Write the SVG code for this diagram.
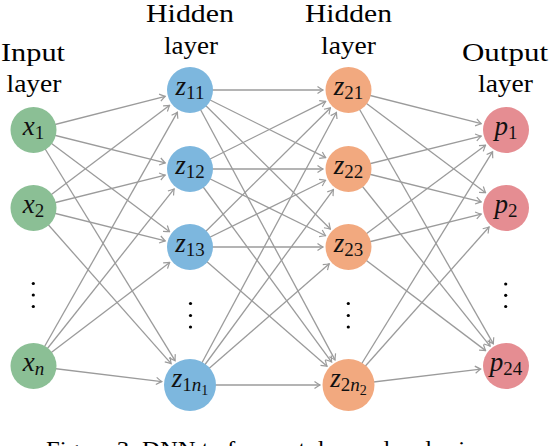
<svg xmlns="http://www.w3.org/2000/svg" width="550" height="446" viewBox="0 0 550 446" font-family="Liberation Serif, serif">
<defs>
<marker id="ah" markerUnits="userSpaceOnUse" viewBox="-7 -5 8 10" markerWidth="8" markerHeight="10" refX="0" refY="0" orient="auto">
<path d="M-5.5,-3.6 Q-1.5,-0.8 0,0 Q-1.5,0.8 -5.5,3.6" stroke="#9b9b9b" stroke-width="1.2" fill="none"/>
</marker>
</defs>
<rect width="550" height="446" fill="#fff"/>
<g id="headers" font-family="Liberation Serif, serif" font-size="26" fill="#000" text-anchor="middle">
<text x="33" y="61" textLength="64" lengthAdjust="spacingAndGlyphs">Input</text>
<text x="34" y="92" textLength="55" lengthAdjust="spacingAndGlyphs">layer</text>
<text x="190" y="22" textLength="88" lengthAdjust="spacingAndGlyphs">Hidden</text>
<text x="191" y="54" textLength="54" lengthAdjust="spacingAndGlyphs">layer</text>
<text x="348.5" y="22" textLength="87" lengthAdjust="spacingAndGlyphs">Hidden</text>
<text x="348.5" y="54" textLength="55" lengthAdjust="spacingAndGlyphs">layer</text>
<text x="505" y="61" textLength="86" lengthAdjust="spacingAndGlyphs">Output</text>
<text x="505.5" y="92" textLength="55" lengthAdjust="spacingAndGlyphs">layer</text>
</g>
<g id="connectors" stroke="#9b9b9b" stroke-width="1.3" fill="none" marker-end="url(#ah)">
<line x1="33.5" y1="130" x2="165.29" y2="96.31"/>
<line x1="33.5" y1="130" x2="165.26" y2="162.83"/>
<line x1="33.5" y1="130" x2="169.58" y2="231.73"/>
<line x1="33.5" y1="130" x2="175.09" y2="360.71"/>
<line x1="33.5" y1="208" x2="169.64" y2="105.35"/>
<line x1="33.5" y1="208" x2="165.26" y2="175.17"/>
<line x1="33.5" y1="208" x2="165.26" y2="240.83"/>
<line x1="33.5" y1="208" x2="171.12" y2="363.65"/>
<line x1="33.5" y1="366" x2="177.42" y2="112.18"/>
<line x1="33.5" y1="366" x2="174.14" y2="188.97"/>
<line x1="33.5" y1="366" x2="169.70" y2="262.44"/>
<line x1="33.5" y1="366" x2="161.71" y2="381.57"/>
<line x1="190" y1="90" x2="323" y2="90"/>
<line x1="190" y1="90" x2="325.68" y2="157.62"/>
<line x1="190" y1="90" x2="330.38" y2="229.06"/>
<line x1="190" y1="90" x2="335.01" y2="359.89"/>
<line x1="190" y1="169" x2="325.68" y2="101.38"/>
<line x1="190" y1="169" x2="323" y2="169"/>
<line x1="190" y1="169" x2="325.62" y2="235.74"/>
<line x1="190" y1="169" x2="331.64" y2="362.02"/>
<line x1="190" y1="247" x2="330.38" y2="107.94"/>
<line x1="190" y1="247" x2="325.62" y2="180.26"/>
<line x1="190" y1="247" x2="323" y2="247"/>
<line x1="190" y1="247" x2="327.01" y2="366.29"/>
<line x1="190" y1="385" x2="336.43" y2="112.46"/>
<line x1="190" y1="385" x2="333.41" y2="189.56"/>
<line x1="190" y1="385" x2="329.27" y2="263.74"/>
<line x1="190" y1="385" x2="320" y2="385"/>
<line x1="348.5" y1="90" x2="481.28" y2="123.72"/>
<line x1="348.5" y1="90" x2="485.59" y2="192.71"/>
<line x1="348.5" y1="90" x2="493.36" y2="343.85"/>
<line x1="348.5" y1="169" x2="481.25" y2="136.13"/>
<line x1="348.5" y1="169" x2="481.25" y2="201.87"/>
<line x1="348.5" y1="169" x2="490.08" y2="346.08"/>
<line x1="348.5" y1="247" x2="485.53" y2="145.21"/>
<line x1="348.5" y1="247" x2="481.25" y2="214.13"/>
<line x1="348.5" y1="247" x2="485.65" y2="350.63"/>
<line x1="348.5" y1="385" x2="492.60" y2="151.70"/>
<line x1="348.5" y1="385" x2="489.05" y2="227.05"/>
<line x1="348.5" y1="385" x2="480.68" y2="369.05"/>
</g>
<g id="nodes" font-family="Liberation Serif, serif" font-size="27" fill="#111" text-anchor="middle">
<g id="x1"><circle fill="#8bbf95" cx="33.5" cy="130" r="23"/><text x="33.5" y="135"><tspan font-style="italic">x</tspan><tspan font-size="19" dy="4">1</tspan></text></g>
<g id="x2"><circle fill="#8bbf95" cx="33.5" cy="208" r="23"/><text x="33.5" y="213"><tspan font-style="italic">x</tspan><tspan font-size="19" dy="4">2</tspan></text></g>
<g id="xn"><circle fill="#8bbf95" cx="33.5" cy="366" r="23"/><text x="33.5" y="371"><tspan font-style="italic">x</tspan><tspan font-size="19" font-style="italic" dy="4">n</tspan></text></g>
<g id="z11"><circle fill="#7db7de" cx="190" cy="90" r="23"/><text x="190" y="95"><tspan font-style="italic">z</tspan><tspan font-size="19" dy="4">11</tspan></text></g>
<g id="z12"><circle fill="#7db7de" cx="190" cy="169" r="23"/><text x="190" y="174"><tspan font-style="italic">z</tspan><tspan font-size="19" dy="4">12</tspan></text></g>
<g id="z13"><circle fill="#7db7de" cx="190" cy="247" r="23"/><text x="190" y="252"><tspan font-style="italic">z</tspan><tspan font-size="19" dy="4">13</tspan></text></g>
<g id="z1n1"><circle fill="#7db7de" cx="190" cy="385" r="26"/><text x="190" y="387"><tspan font-style="italic">z</tspan><tspan font-size="19" dy="4">1</tspan><tspan font-size="19" font-style="italic">n</tspan><tspan font-size="14" dy="4">1</tspan></text></g>
<g id="z21"><circle fill="#f2a97f" cx="348.5" cy="90" r="23"/><text x="348.5" y="95"><tspan font-style="italic">z</tspan><tspan font-size="19" dy="4">21</tspan></text></g>
<g id="z22"><circle fill="#f2a97f" cx="348.5" cy="169" r="23"/><text x="348.5" y="174"><tspan font-style="italic">z</tspan><tspan font-size="19" dy="4">22</tspan></text></g>
<g id="z23"><circle fill="#f2a97f" cx="348.5" cy="247" r="23"/><text x="348.5" y="252"><tspan font-style="italic">z</tspan><tspan font-size="19" dy="4">23</tspan></text></g>
<g id="z2n2"><circle fill="#f2a97f" cx="348.5" cy="385" r="26"/><text x="348.5" y="387"><tspan font-style="italic">z</tspan><tspan font-size="19" dy="4">2</tspan><tspan font-size="19" font-style="italic">n</tspan><tspan font-size="14" dy="4">2</tspan></text></g>
<g id="p1"><circle fill="#e58d92" cx="506" cy="130" r="23"/><text x="506" y="135"><tspan font-style="italic">p</tspan><tspan font-size="19" dy="4">1</tspan></text></g>
<g id="p2"><circle fill="#e58d92" cx="506" cy="208" r="23"/><text x="506" y="213"><tspan font-style="italic">p</tspan><tspan font-size="19" dy="4">2</tspan></text></g>
<g id="p24"><circle fill="#e58d92" cx="506" cy="366" r="23"/><text x="506" y="371"><tspan font-style="italic">p</tspan><tspan font-size="19" dy="4">24</tspan></text></g>
</g>
<g id="ellipses" fill="#000">
<circle cx="33.3" cy="283.5" r="1.6"/><circle cx="33.3" cy="295" r="1.6"/><circle cx="33.3" cy="306.5" r="1.6"/>
<circle cx="190.5" cy="303.5" r="1.6"/><circle cx="190.5" cy="315.5" r="1.6"/><circle cx="190.5" cy="327" r="1.6"/>
<circle cx="348.3" cy="303.5" r="1.6"/><circle cx="348.3" cy="315.5" r="1.6"/><circle cx="348.3" cy="327" r="1.6"/>
<circle cx="505.7" cy="284" r="1.6"/><circle cx="505.7" cy="295.3" r="1.6"/><circle cx="505.7" cy="306.5" r="1.6"/>
</g>
<text font-family="Liberation Serif, serif" font-size="24" fill="#000" x="46" y="457" textLength="441" lengthAdjust="spacingAndGlyphs">Figure 3: DNN to forecast demand and price</text>
</svg>
